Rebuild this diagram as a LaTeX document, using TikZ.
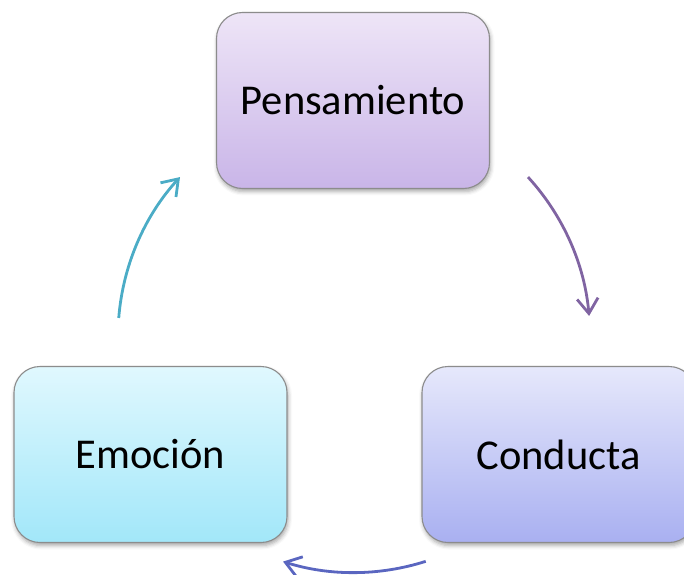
\documentclass[tikz,border=0pt]{standalone}
\usepackage{fontspec}
\setmainfont{Carlito}
\usepackage{xcolor}
\usepackage{tikz}
\usetikzlibrary{positioning, arrows.meta, shadows.blur}

\definecolor{penTop}{HTML}{EEE5F7}
\definecolor{penBot}{HTML}{C9B5E8}
\definecolor{emoTop}{HTML}{E0F8FE}
\definecolor{emoBot}{HTML}{A2E7F9}
\definecolor{conTop}{HTML}{E6E8FB}
\definecolor{conBot}{HTML}{A9B0F1}
\definecolor{cycCyan}{HTML}{4BACC6}
\definecolor{cycPurple}{HTML}{8064A2}
\definecolor{cycBlue}{HTML}{5A66C0}

\tikzset{
    box/.style = {draw = black!45, line width = 1.1pt, rounded corners = 26pt,
        minimum width = 273pt, minimum height = 176pt,
        font = \fontsize{42.5}{50}\selectfont,
        blur shadow = {shadow xshift = 1pt, shadow yshift = -3pt,
            shadow blur radius = 4pt, shadow opacity = 35}},
    cycle/.style = {line width = 2.8pt,
        -{Straight Barb[length = 15pt, width = 21pt]}}
}

\begin{document}
\begin{tikzpicture} [x = 1pt, y = 1pt, node distance = 100pt, on grid]

        \useasboundingbox (0,0) rectangle (684,574);

        \node (pen) [box, top color = penTop, bottom color = penBot] at
        (353,473.5) {Pensamiento}; \node (emo) [box, top color = emoTop,
        bottom color = emoBot, below left = 354pt and 202.5pt of pen]
        {Emoción}; \node (con) [box, top color = conTop, bottom color =
        conBot, right = 408pt of emo] {Conducta};

        \coordinate (mid) at (barycentric cs:pen=1,emo=1,con=1);

        \draw [cycle, cycCyan] ([shift={(175.5:236pt)}]mid)
            arc [start angle = 175.5, end angle = 137.5, radius = 236pt];
        \draw [cycle, cycPurple] ([shift={(42.5:236pt)}]mid)
            arc [start angle = 42.5, end angle = 5, radius = 236pt];
        \draw [cycle, cycBlue] ([shift={(-72.3:236pt)}]mid)
            arc [start angle = -72.3, end angle = -107.5, radius = 236pt];

    \end{tikzpicture}
\end{document}
